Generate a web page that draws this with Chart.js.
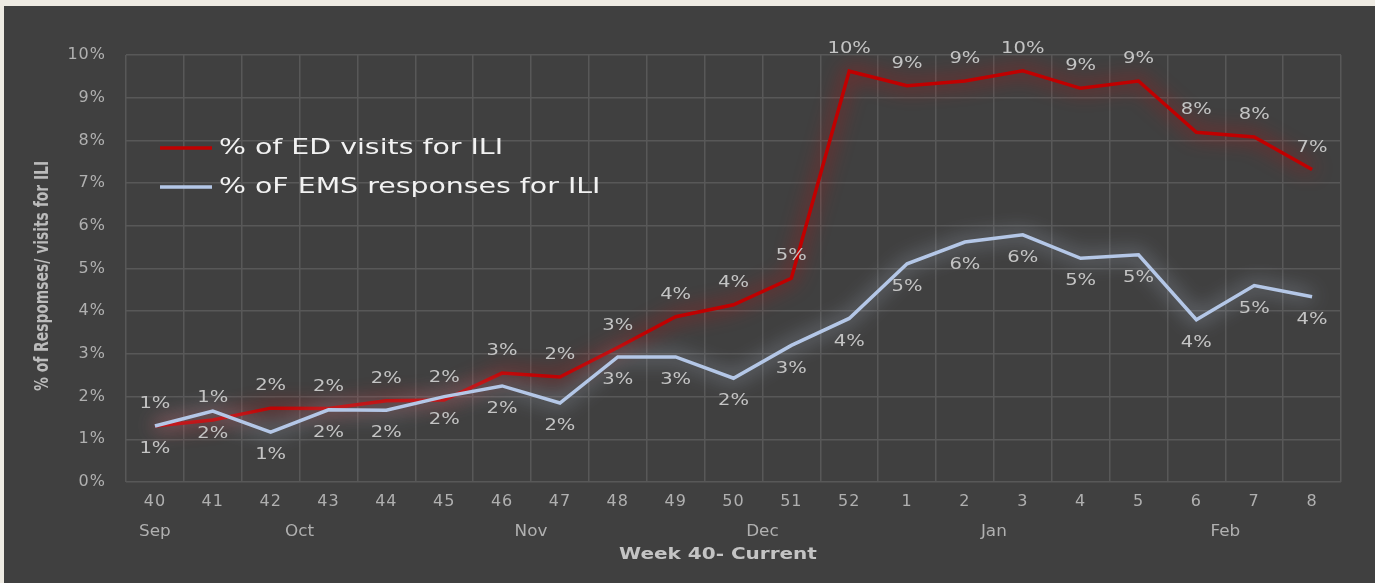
<!DOCTYPE html>
<html>
<head>
<meta charset="utf-8">
<script src="https://cdn.jsdelivr.net/npm/chart.js@4.4.1/dist/chart.umd.min.js"></script>
<style>
    body { margin: 0; background: #eeebe3; }
    #panel {
        position: absolute;
        left: 4px; top: 6px;
        width: 1371px; height: 577px;
        background: #404040;
    }
</style>
</head>
<body>
<div id="panel"><canvas id="iliChart"></canvas></div>
<script>
// Weeks (season week 40 through week 8)
const weeks = ['40', '41', '42', '43', '44', '45', '46', '47', '48', '49', '50', '51', '52',
               '1', '2', '3', '4', '5', '6', '7', '8'];

// Month groups under the week numbers, and how many weeks each covers
const months = ['Sep', 'Oct', 'Nov', 'Dec', 'Jan', 'Feb'];
const monthWeekCounts = [1, 4, 4, 4, 4, 4];

// % of ED visits for ILI
const edVisits = [1.31, 1.45, 1.73, 1.72, 1.9, 1.92, 2.55, 2.46, 3.15, 3.87, 4.15, 4.77, 9.62,
                  9.28, 9.39, 9.63, 9.22, 9.39, 8.19, 8.08, 7.32];

// % of EMS responses for ILI
const emsResponses = [1.31, 1.66, 1.17, 1.69, 1.68, 2.0, 2.25, 1.85, 2.93, 2.93, 2.43, 3.2, 3.83,
                      5.11, 5.62, 5.79, 5.24, 5.32, 3.8, 4.6, 4.34];

const seriesNames = ['% of ED visits for ILI', '% oF EMS responses for ILI'];
const xTitle = 'Week 40- Current';
const yTitle = '% of Respomses/ visits for ILI';

const FONT = "'DejaVu Sans', Verdana, sans-serif";
const RED = '#c00000';
const BLUE = '#b4c7e7';

// the original picture is stretched sideways, so text is drawn a bit wide
function wideText(ctx, text, x, y, sx) {
    ctx.save();
    ctx.translate(x, y);
    ctx.scale(sx, 1);
    ctx.fillText(text, 0, 0);
    ctx.restore();
}

// Glow under each line, like the Excel "glow" effect
const glowPlugin = {
    id: 'glow',
    beforeDraw(chart) {
        chart.ctx.letterSpacing = '1px';
    },
    beforeDatasetDraw(chart, args) {
        const ctx = chart.ctx;
        ctx.save();
        ctx.shadowColor = args.index === 0 ? 'rgba(235, 0, 0, 0.9)' : 'rgba(205, 220, 245, 0.85)';
        ctx.shadowBlur = 20;
    },
    afterDatasetDraw(chart) {
        chart.ctx.restore();
    }
};

// Value labels: red above its line, blue below
const valueLabels = {
    id: 'valueLabels',
    afterDatasetsDraw(chart) {
        const ctx = chart.ctx;
        ctx.save();
        ctx.letterSpacing = '0px';
        ctx.font = '16px ' + FONT;
        ctx.fillStyle = '#c4c4c4';
        ctx.textAlign = 'center';
        ctx.textBaseline = 'middle';
        chart.data.datasets.forEach((ds, i) => {
            const meta = chart.getDatasetMeta(i);
            meta.data.forEach((pt, j) => {
                const dy = i === 0 ? -22 : 23;
                wideText(ctx, Math.round(ds.data[j]) + '%', pt.x, pt.y + dy, 1.22);
            });
        });
        ctx.restore();
    }
};

// Month row, axis titles and the legend inside the plot
const extras = {
    id: 'extras',
    afterDraw(chart) {
        const ctx = chart.ctx;
        const x = chart.scales.x;
        ctx.save();
        ctx.letterSpacing = '0px';
        ctx.textAlign = 'center';
        ctx.textBaseline = 'middle';

        ctx.font = '15px ' + FONT;
        ctx.fillStyle = '#b0b0b0';
        let start = 0;
        months.forEach((m, i) => {
            const end = start + monthWeekCounts[i] - 1;
            const cx = (x.getPixelForValue(start) + x.getPixelForValue(end)) / 2;
            wideText(ctx, m, cx, 526, 1.12);
            start = end + 1;
        });

        ctx.font = 'bold 16px ' + FONT;
        ctx.fillStyle = '#c4c4c4';
        wideText(ctx, xTitle, 714, 549, 1.25);

        // rotated y title, squeezed along its length
        ctx.font = 'bold 19px ' + FONT;
        ctx.fillStyle = '#bcbcbc';
        ctx.save();
        ctx.translate(39, 270);
        ctx.rotate(-Math.PI / 2);
        ctx.scale(0.73, 1);
        ctx.fillText(yTitle, 0, 0);
        ctx.restore();

        // legend
        const colors = [RED, BLUE];
        ctx.font = '22px ' + FONT;
        ctx.textAlign = 'left';
        seriesNames.forEach((name, i) => {
            const y = 142 + i * 39;
            ctx.strokeStyle = colors[i];
            ctx.lineWidth = 3.5;
            ctx.beginPath();
            ctx.moveTo(156, y);
            ctx.lineTo(208, y);
            ctx.stroke();
            ctx.fillStyle = '#f2f2f2';
            wideText(ctx, name, 215, y, 1.29);
        });
        ctx.restore();
    }
};

const ctx = document.getElementById('iliChart').getContext('2d');

new Chart(ctx, {
    type: 'line',
    data: {
        labels: weeks,
        datasets: [
            {
                label: seriesNames[0],
                data: edVisits,
                borderColor: RED,
                borderWidth: 3.5,
                pointRadius: 0,
                tension: 0,
                order: 1
            },
            {
                label: seriesNames[1],
                data: emsResponses,
                borderColor: BLUE,
                borderWidth: 3.5,
                pointRadius: 0,
                tension: 0,
                order: 0
            }
        ]
    },
    options: {
        responsive: true,
        maintainAspectRatio: false,
        animation: false,
        layout: { padding: { left: 0, right: 34, top: 49, bottom: 0 } },
        plugins: {
            legend: { display: false },
            tooltip: { enabled: false }
        },
        scales: {
            x: {
                offset: true,
                grid: { offset: true, color: '#585858', lineWidth: 1.5, drawTicks: false },
                border: { display: false },
                ticks: {
                    color: '#b0b0b0',
                    font: { family: FONT, size: 16 },
                    padding: 10,
                    maxRotation: 0,
                    autoSkip: false
                },
                afterFit(scale) { scale.height = 101; }
            },
            y: {
                min: 0,
                max: 10,
                ticks: {
                    stepSize: 1,
                    color: '#b0b0b0',
                    font: { family: FONT, size: 16 },
                    padding: 20,
                    callback: v => v + '%'
                },
                grid: { color: '#585858', lineWidth: 1.5, drawTicks: false },
                border: { display: false },
                afterFit(scale) { scale.width = 122; }
            }
        }
    },
    plugins: [glowPlugin, valueLabels, extras]
});
</script>
</body>
</html>
